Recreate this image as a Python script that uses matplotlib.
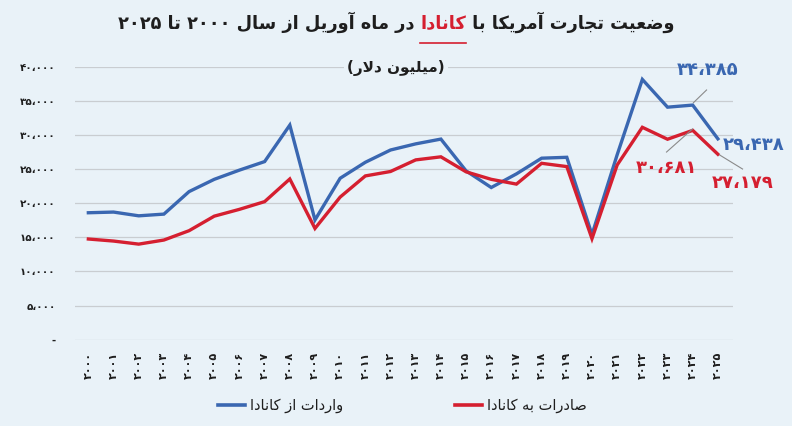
import re
import numpy as np
import matplotlib
matplotlib.use("Agg")
import matplotlib.pyplot as plt
from matplotlib.lines import Line2D

# --- data (million dollars, April of each year) ---
years = [2000, 2001, 2002, 2003, 2004, 2005, 2006, 2007, 2008, 2009,
         2010, 2011, 2012, 2013, 2014, 2015, 2016, 2017, 2018, 2019,
         2020, 2021, 2022, 2023, 2024, 2025]
imports_from_canada = [18600, 18700, 18150, 18400, 21700, 23500, 24850, 26100, 31450, 17550,
                       23660, 26000, 27800, 28700, 29400, 24740, 22300, 24300, 26600, 26730,
                       15400, 27100, 38150, 34080, 34385, 29438]
exports_to_canada = [14750, 14450, 14000, 14600, 15970, 18100, 19100, 20230, 23550, 16300,
                     20900, 24000, 24650, 26350, 26800, 24600, 23500, 22800, 25850, 25370,
                     14800, 25600, 31130, 29380, 30681, 27179]
y_ticks = [0, 5000, 10000, 15000, 20000, 25000, 30000, 35000, 40000]

title_text = "وضعیت تجارت آمریکا با کانادا در ماه آوریل از سال ۲۰۰۰ تا ۲۰۲۵"
subtitle_text = "میلیون دلار"
legend_imports = "واردات از کانادا"
legend_exports = "صادرات به کانادا"

BG = "#e9f2f8"
BLUE = "#3a67b1"
RED = "#d51f30"
DARK = "#1e1e1e"

# --- minimal Persian shaping (matplotlib has no complex text layout) ---
FORMS = {
    'ا': (0xFE8D, 0xFE8E, None, None), 'آ': (0xFE81, 0xFE82, None, None),
    'ب': (0xFE8F, 0xFE90, 0xFE91, 0xFE92), 'ت': (0xFE95, 0xFE96, 0xFE97, 0xFE98),
    'ج': (0xFE9D, 0xFE9E, 0xFE9F, 0xFEA0), 'د': (0xFEA9, 0xFEAA, None, None),
    'ر': (0xFEAD, 0xFEAE, None, None), 'ز': (0xFEAF, 0xFEB0, None, None),
    'س': (0xFEB1, 0xFEB2, 0xFEB3, 0xFEB4), 'ص': (0xFEB9, 0xFEBA, 0xFEBB, 0xFEBC),
    'ض': (0xFEBD, 0xFEBE, 0xFEBF, 0xFEC0), 'ع': (0xFEC9, 0xFECA, 0xFECB, 0xFECC),
    'ل': (0xFEDD, 0xFEDE, 0xFEDF, 0xFEE0), 'م': (0xFEE1, 0xFEE2, 0xFEE3, 0xFEE4),
    'ن': (0xFEE5, 0xFEE6, 0xFEE7, 0xFEE8), 'ه': (0xFEE9, 0xFEEA, 0xFEEB, 0xFEEC),
    'و': (0xFEED, 0xFEEE, None, None), 'ی': (0xFBFC, 0xFBFD, 0xFBFE, 0xFBFF),
    'ک': (0xFB8E, 0xFB8F, 0xFB90, 0xFB91),
}
LAM_ALEF = {'ا': (0xFEFB, 0xFEFC), 'آ': (0xFEF5, 0xFEF6)}


def dual(c):
    return c in FORMS and FORMS[c][2] is not None


def shape(s):
    out = []
    i = 0
    while i < len(s):
        c = s[i]
        if c not in FORMS:
            out.append(c)
            i += 1
            continue
        jp = i > 0 and dual(s[i - 1])
        if c == 'ل' and i + 1 < len(s) and s[i + 1] in LAM_ALEF:
            lig = LAM_ALEF[s[i + 1]]
            out.append(chr(lig[1] if jp else lig[0]))
            i += 2
            continue
        jn = dual(c) and i + 1 < len(s) and s[i + 1] in FORMS
        iso, fin, ini, med = FORMS[c]
        if jp and jn:
            g = med
        elif jp:
            g = fin
        elif jn:
            g = ini
        else:
            g = iso
        out.append(chr(g))
        i += 1
    return ''.join(out)


def rtl(s):
    v = shape(s)[::-1]
    return re.sub(r'[۰-۹][۰-۹،]*', lambda m: m.group(0)[::-1], v)


FA = str.maketrans('0123456789', '۰۱۲۳۴۵۶۷۸۹')


def fa_num(v):
    return f"{v:,}".replace(',', '،').translate(FA)


plt.rcParams['font.family'] = ['DejaVu Sans']

fig = plt.figure(figsize=(7.92, 4.26), dpi=100, facecolor=BG)
ax = fig.add_axes([0.0947, 0.2028, 0.8308, 0.6404], facecolor=BG)

x = np.arange(len(years))
ax.plot(x, imports_from_canada, color=BLUE, lw=2.4, solid_joinstyle='miter', zorder=3)
ax.plot(x, exports_to_canada, color=RED, lw=2.4, solid_joinstyle='miter', zorder=3)

ax.set_xlim(-0.53, 25.6)
ax.set_ylim(0, 40000)
ax.set_yticks(y_ticks)
ax.set_yticklabels(['-' if v == 0 else fa_num(v) for v in y_ticks],
                   fontsize=7.5, fontweight='bold', color=DARK)
ax.set_xticks(x)
ax.set_xticklabels([str(y).translate(FA) for y in years], rotation=90,
                   fontsize=8, fontweight='bold', color=DARK)
ax.tick_params(axis='y', length=0, pad=14)
ax.tick_params(axis='x', length=0, pad=9)
ax.grid(axis='y', color='#c9cdd1', lw=0.9)
ax.set_axisbelow(True)
for sp in ax.spines.values():
    sp.set_visible(False)

# value labels with leader lines
lead = dict(color='#8a8a8a', lw=0.8, clip_on=False, zorder=4)
ax.plot([24.03, 24.55], [34740, 36600], **lead)
ax.plot([23.99, 22.96], [30880, 27500], **lead)
ax.plot([25.07, 25.98], [27070, 25010], **lead)
lab = dict(fontsize=13, fontweight='bold', va='center', clip_on=False, zorder=5)
ax.text(24.59, 39530, fa_num(imports_from_canada[-2]), color=BLUE, ha='center', **lab)
ax.text(25.18, 28600, fa_num(imports_from_canada[-1]), color=BLUE, ha='left', **lab)
ax.text(22.96, 25160, fa_num(exports_to_canada[-2]), color=RED, ha='center', **lab)
ax.text(26.0, 22890, fa_num(exports_to_canada[-1]), color=RED, ha='center', **lab)

# title in three pieces (red country name, underlined)
renderer = fig.canvas.get_renderer()
words = title_text.split(' ')
k = words.index('کانادا')
pieces = [(rtl(' '.join(words[k + 1:])) + ' ', DARK),
          (rtl(words[k]), RED),
          (' ' + rtl(' '.join(words[:k])), DARK)]
tp = dict(fontsize=12.8, fontweight='bold', va='center', ha='left')
widths = []
for s, c in pieces:
    t = fig.text(0, 0, s, **tp)
    widths.append(t.get_window_extent(renderer).width / fig.bbox.width)
    t.remove()
xpos = 0.5 - sum(widths) / 2
for (s, c), w in zip(pieces, widths):
    fig.text(xpos, 0.947, s, color=c, **tp)
    if c == RED:
        fig.add_artist(Line2D([xpos, xpos + w], [0.9, 0.9], color=RED, lw=1.2))
    xpos += w

fig.text(0.5, 0.84, '(' + rtl(subtitle_text) + ')', fontsize=11, fontweight='bold',
         color=DARK, ha='center', va='center',
         bbox=dict(facecolor=BG, edgecolor='none', pad=2))

# legend
fig.add_artist(Line2D([0.275, 0.309], [0.049, 0.049], color=BLUE, lw=2.6))
fig.text(0.316, 0.049, rtl(legend_imports), fontsize=10.5, color=DARK, ha='left', va='center')
fig.add_artist(Line2D([0.575, 0.609], [0.049, 0.049], color=RED, lw=2.6))
fig.text(0.615, 0.049, rtl(legend_exports), fontsize=10.5, color=DARK, ha='left', va='center')

fig.savefig('out.png', dpi=100, facecolor=BG)
